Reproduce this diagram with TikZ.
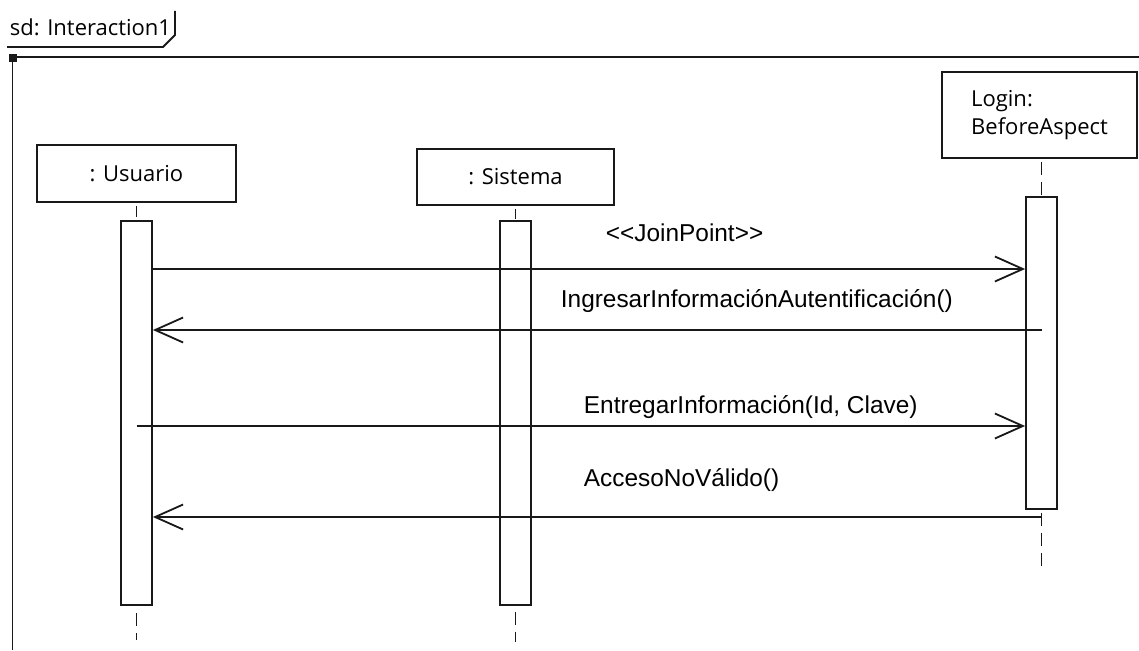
\documentclass[tikz,border=0pt]{standalone}
\usepackage{fontspec}
\setmainfont{Liberation Sans}
\newfontfamily\headfont{Open Sans}
\usetikzlibrary{arrows.meta,positioning}
\definecolor{umlline}{RGB}{25,25,25}

\begin{document}
\begin{tikzpicture}[x=1pt, y=-1pt, line width=1.8pt, draw=umlline,
  headbox/.style={draw=umlline, fill=white, inner sep=0pt,
    font=\headfont\fontsize{22}{28}\selectfont},
  actbox/.style={draw=umlline, fill=white, minimum width=31pt, inner sep=0pt},
  lifeline/.style={draw=umlline, dash pattern=on 13pt off 7pt, line width=1.6pt},
  msg/.style={draw=umlline, -{Straight Barb[length=28pt, width=25pt]}},
  msglabel/.style={font=\fontsize{24.4}{29}\selectfont, anchor=base west,
    inner sep=0pt}]
\useasboundingbox (0,0) rectangle (1139,650);
% Frame
\node[font=\headfont\fontsize{22}{28}\selectfont, anchor=base west,
      inner sep=0pt] (frameLabel) at (9,36) {sd: Interaction1};
\draw (7,47) -- (163,47) -- (175,35) -- (175,11);
\fill[umlline] (9,54) rectangle (17,62);
\draw (17,57) -- (1139,57);
\draw (12.5,62) -- (12.5,650);
% Lifeline heads
\node[headbox, minimum width=199pt, minimum height=57pt] (usuario)
  at (136.5,173.5) {: Usuario};
\node[headbox, minimum width=197pt, minimum height=56pt] (sistema)
  at (515.5,177) {: Sistema};
\node[headbox, minimum width=195pt, minimum height=86pt, align=left] (login)
  at (1039.5,115) {Login:\\BeforeAspect};
% Activations
\node[actbox, minimum height=384pt] (actUsuario) at (136.5,413) {};
\node[actbox, minimum height=384pt] (actSistema) at (515.5,413) {};
\node[actbox, minimum height=312pt] (actLogin) at (1041.5,353) {};
% Lifelines
\coordinate (usuarioEnd) at (136.5,640);
\coordinate (sistemaEnd) at (515.5,642);
\coordinate (loginEnd) at (1041.5,570);
\draw[lifeline, shorten <=3pt, shorten >=3pt] (usuario.south) -- (actUsuario.north);
\draw[lifeline, shorten <=7pt] (actUsuario.south) -- (usuarioEnd);
\draw[lifeline, shorten <=3pt, shorten >=1pt] (sistema.south) -- (actSistema.north);
\draw[lifeline, shorten <=6pt] (actSistema.south) -- (sistemaEnd);
\draw[lifeline, shorten <=3pt] (actLogin.north |- login.south) -- (actLogin.north);
\draw[lifeline, shorten <=3pt] (actLogin.south) -- (loginEnd);
% Messages
\coordinate (m1) at (0,269);
\coordinate (m2) at (0,330);
\coordinate (m3) at (0,426);
\coordinate (m4) at (0,517);
\draw[msg] (actUsuario.east |- m1) -- (actLogin.west |- m1);
\draw[msg] (actLogin |- m2) -- (actUsuario.east |- m2);
\draw[msg] (actUsuario |- m3) -- (actLogin.west |- m3);
\draw[msg] (actLogin |- m4) -- (actUsuario.east |- m4);
% Message labels
\node[msglabel] (lblJoin) at (605,241) {<{}<JoinPoint>{}>};
\node[msglabel] (lblIngresar) at (560,307) {IngresarInformaciónAutentificación()};
\node[msglabel] (lblEntregar) at (583,413) {EntregarInformación(Id, Clave)};
\node[msglabel] (lblAcceso) at (583,486) {AccesoNoVálido()};
\end{tikzpicture}
\end{document}
